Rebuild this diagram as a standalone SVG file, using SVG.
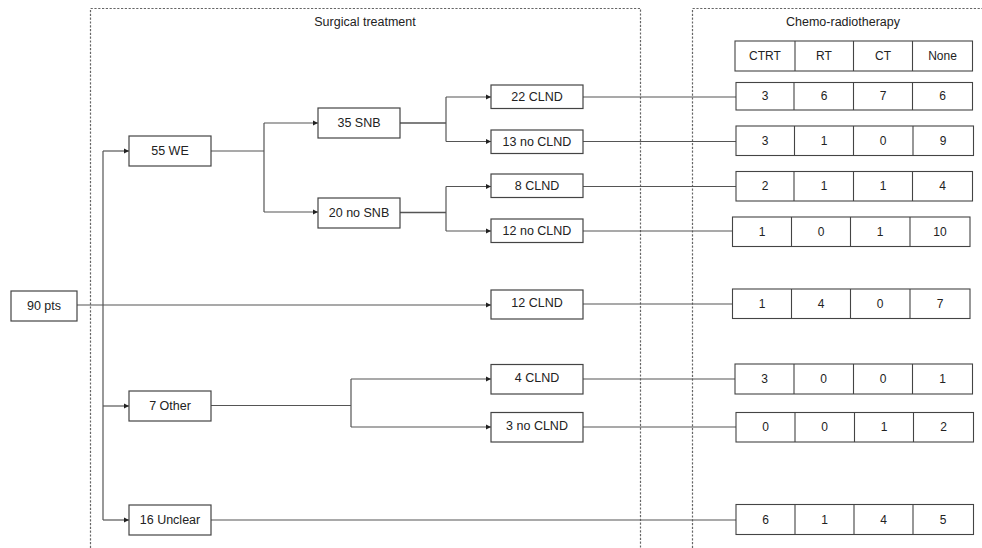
<svg xmlns="http://www.w3.org/2000/svg" width="982" height="548" viewBox="0 0 982 548">
<style>
.bg{fill:#fff}
.frame{fill:none;stroke:#666;stroke-width:1.2;stroke-dasharray:2.2 1.6}
.box{fill:#fff;stroke:#444;stroke-width:1.2}
.cell{fill:none;stroke:#444;stroke-width:1.1}
.ln{fill:none;stroke:#555;stroke-width:1.2}
.t{font-family:"Liberation Sans",Arial,sans-serif;font-size:12.5px;fill:#222;text-anchor:middle}
.n{font-family:"Liberation Sans",Arial,sans-serif;font-size:12px;fill:#222;text-anchor:middle}
</style>
<defs>
<marker id="ah" viewBox="0 0 10 10" refX="10" refY="5" markerWidth="5.5" markerHeight="5.5" markerUnits="userSpaceOnUse" orient="auto">
<path d="M0,0 L10,5 L0,10 z" fill="#222"/>
</marker>
</defs>
<rect class="bg" x="0" y="0" width="982" height="548"/>

<g id="frames">
<path class="frame" d="M90.5,548 V8.5 H640.5 V548"/>
<path class="frame" d="M692.5,548 V8.5 H982"/>
<text class="t" x="365" y="26">Surgical treatment</text>
<text class="t" x="843" y="26">Chemo-radiotherapy</text>
</g>

<g id="connectors">
<path class="ln" d="M77,305 H103 M103,151 V520"/>
<path class="ln" marker-end="url(#ah)" d="M103,151 H129"/>
<path class="ln" marker-end="url(#ah)" d="M103,406 H129"/>
<path class="ln" marker-end="url(#ah)" d="M103,520 H129"/>
<path class="ln" marker-end="url(#ah)" d="M103,305 H491"/>
<path class="ln" d="M211,151 H264 M264,123 V212"/>
<path class="ln" marker-end="url(#ah)" d="M264,123 H318"/>
<path class="ln" marker-end="url(#ah)" d="M264,212 H318"/>
<path class="ln" style="stroke-width:1.6" d="M400,123 H446"/>
<path class="ln" d="M446,97 V141.5"/>
<path class="ln" marker-end="url(#ah)" d="M446,97 H491"/>
<path class="ln" marker-end="url(#ah)" d="M446,141.5 H491"/>
<path class="ln" style="stroke-width:1.6" d="M400,212.5 H446"/>
<path class="ln" d="M446,186.5 V231"/>
<path class="ln" marker-end="url(#ah)" d="M446,186.5 H491"/>
<path class="ln" marker-end="url(#ah)" d="M446,231 H491"/>
<path class="ln" d="M211,405.5 H351 M351,379 V427"/>
<path class="ln" marker-end="url(#ah)" d="M351,379 H491"/>
<path class="ln" marker-end="url(#ah)" d="M351,427 H491"/>
<path class="ln" d="M583,97 H736"/>
<path class="ln" d="M583,141.5 H736"/>
<path class="ln" d="M583,186.5 H736"/>
<path class="ln" d="M583,231 H732"/>
<path class="ln" d="M583,304 H733"/>
<path class="ln" d="M583,379 H735"/>
<path class="ln" d="M583,427 H736"/>
<path class="ln" d="M211,520 H736"/>
</g>

<g id="n90pts"><rect class="box" x="11" y="291" width="66" height="30"/><text class="t" x="44" y="310">90 pts</text></g>
<g id="n55we"><rect class="box" x="129" y="136" width="82" height="30"/><text class="t" x="170" y="155">55 WE</text></g>
<g id="n7other"><rect class="box" x="129" y="391" width="82" height="30"/><text class="t" x="170" y="410">7 Other</text></g>
<g id="n16unclear"><rect class="box" x="129" y="505" width="82" height="30"/><text class="t" x="170" y="524">16 Unclear</text></g>
<g id="n35snb"><rect class="box" x="318" y="108" width="82" height="30"/><text class="t" x="359" y="127">35 SNB</text></g>
<g id="n20nosnb"><rect class="box" x="318" y="198" width="82" height="30"/><text class="t" x="359" y="217">20 no SNB</text></g>
<g id="n22clnd"><rect class="box" x="491" y="85" width="92" height="23.5"/><text class="t" x="537" y="101">22 CLND</text></g>
<g id="n13noclnd"><rect class="box" x="491" y="130" width="92" height="23.5"/><text class="t" x="537" y="146">13 no CLND</text></g>
<g id="n8clnd"><rect class="box" x="491" y="174" width="92" height="23.5"/><text class="t" x="537" y="190">8 CLND</text></g>
<g id="n12noclnd"><rect class="box" x="491" y="219" width="92" height="23.5"/><text class="t" x="537" y="235">12 no CLND</text></g>
<g id="n12clnd"><rect class="box" x="491" y="290" width="92" height="29"/><text class="t" x="537" y="307">12 CLND</text></g>
<g id="n4clnd"><rect class="box" x="491" y="364.5" width="92" height="29.5"/><text class="t" x="537" y="382">4 CLND</text></g>
<g id="n3noclnd"><rect class="box" x="491" y="412.5" width="92" height="29.5"/><text class="t" x="537" y="430">3 no CLND</text></g>

<g id="table-header">
<rect class="cell" x="735" y="41" width="237.5" height="30"/>
<path class="cell" d="M795,41 V71 M853.5,41 V71 M912.5,41 V71"/>
<text class="n" x="765" y="60">CTRT</text><text class="n" x="824" y="60">RT</text><text class="n" x="883" y="60">CT</text><text class="n" x="942.5" y="60">None</text>
</g>
<g id="row-22clnd">
<rect class="cell" x="736" y="82.5" width="236.5" height="27.5"/>
<path class="cell" d="M794,82.5 V110 M853.5,82.5 V110 M912.5,82.5 V110"/>
<text class="n" x="765" y="100">3</text><text class="n" x="824" y="100">6</text><text class="n" x="883" y="100">7</text><text class="n" x="942.5" y="100">6</text>
</g>
<g id="row-13noclnd">
<rect class="cell" x="736" y="126" width="237.5" height="29.5"/>
<path class="cell" d="M794.5,126 V155.5 M853.5,126 V155.5 M913,126 V155.5"/>
<text class="n" x="765" y="145">3</text><text class="n" x="824" y="145">1</text><text class="n" x="883" y="145">0</text><text class="n" x="943" y="145">9</text>
</g>
<g id="row-8clnd">
<rect class="cell" x="736" y="171.5" width="236.5" height="29.5"/>
<path class="cell" d="M794,171.5 V201 M853.5,171.5 V201 M912.5,171.5 V201"/>
<text class="n" x="765" y="190">2</text><text class="n" x="824" y="190">1</text><text class="n" x="883" y="190">1</text><text class="n" x="942.5" y="190">4</text>
</g>
<g id="row-12noclnd">
<rect class="cell" x="732.5" y="217" width="237.5" height="29.5"/>
<path class="cell" d="M791.5,217 V246.5 M850.5,217 V246.5 M910,217 V246.5"/>
<text class="n" x="762" y="236">1</text><text class="n" x="821" y="236">0</text><text class="n" x="880" y="236">1</text><text class="n" x="940" y="236">10</text>
</g>
<g id="row-12clnd">
<rect class="cell" x="732.5" y="289" width="237.5" height="29.5"/>
<path class="cell" d="M791.5,289 V318.5 M850.5,289 V318.5 M910,289 V318.5"/>
<text class="n" x="762" y="308">1</text><text class="n" x="821" y="308">4</text><text class="n" x="880" y="308">0</text><text class="n" x="940" y="308">7</text>
</g>
<g id="row-4clnd">
<rect class="cell" x="735" y="364" width="237.5" height="30"/>
<path class="cell" d="M794,364 V394 M853.5,364 V394 M912.5,364 V394"/>
<text class="n" x="764.5" y="383">3</text><text class="n" x="823.5" y="383">0</text><text class="n" x="883" y="383">0</text><text class="n" x="942.5" y="383">1</text>
</g>
<g id="row-3noclnd">
<rect class="cell" x="736" y="412.5" width="237.5" height="29.5"/>
<path class="cell" d="M795,412.5 V442 M854.5,412.5 V442 M913.5,412.5 V442"/>
<text class="n" x="765.5" y="431">0</text><text class="n" x="824.5" y="431">0</text><text class="n" x="884" y="431">1</text><text class="n" x="943.5" y="431">2</text>
</g>
<g id="row-16unclear">
<rect class="cell" x="736" y="504.5" width="237.5" height="30"/>
<path class="cell" d="M795,504.5 V534.5 M854,504.5 V534.5 M913,504.5 V534.5"/>
<text class="n" x="765.5" y="524">6</text><text class="n" x="824.5" y="524">1</text><text class="n" x="883.5" y="524">4</text><text class="n" x="943" y="524">5</text>
</g>
</svg>
